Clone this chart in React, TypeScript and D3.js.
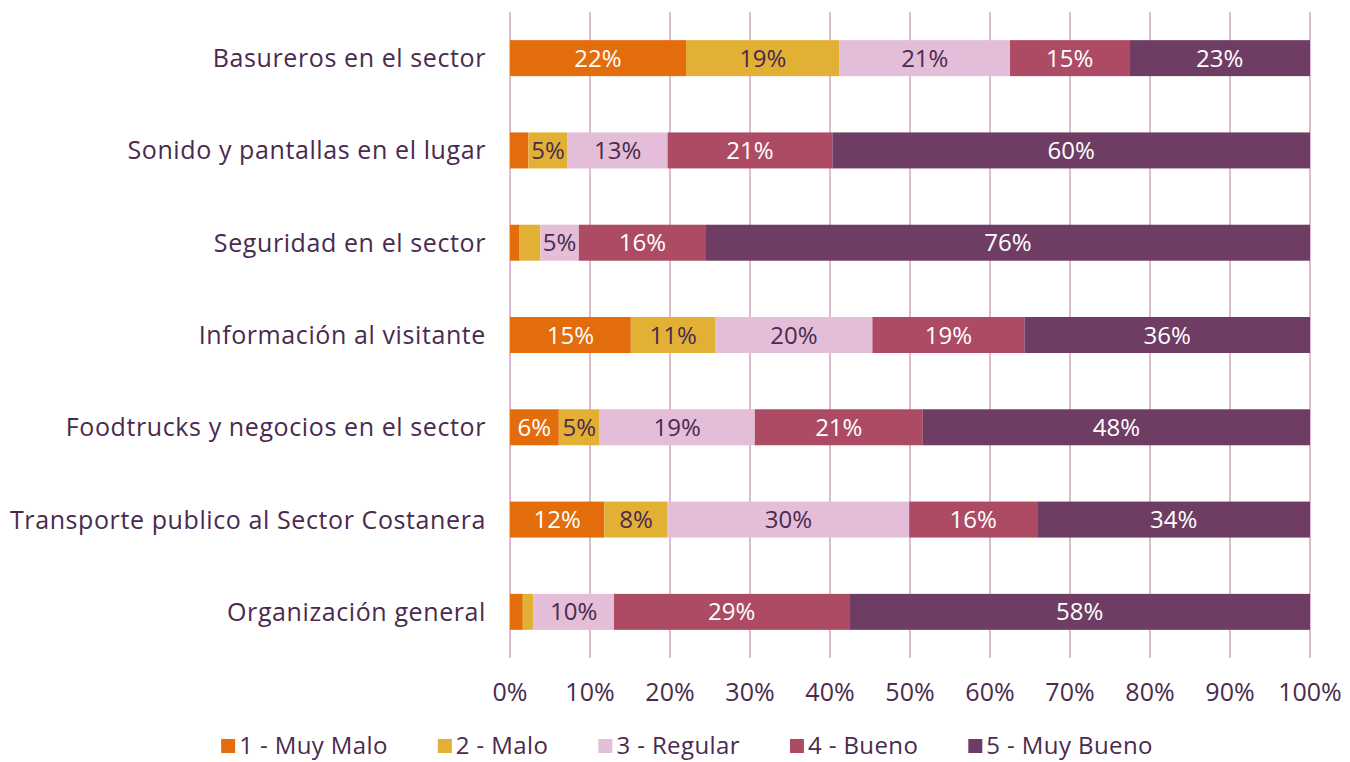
import React, { useEffect, useRef } from "react";
import * as d3 from "d3";

const categories = [
  "Basureros en el sector",
  "Sonido y pantallas en el lugar",
  "Seguridad en el sector",
  "Información al visitante",
  "Foodtrucks y negocios en el sector",
  "Transporte publico al Sector Costanera",
  "Organización general",
];

const seriesNames = ["1 - Muy Malo", "2 - Malo", "3 - Regular", "4 - Bueno", "5 - Muy Bueno"];

// one array per series, same order as categories
const muyMalo = [22.0, 2.3, 1.2, 15.1, 6.1, 11.8, 1.6];
const malo = [19.2, 4.9, 2.6, 10.6, 5.1, 7.9, 1.3];
const regular = [21.3, 12.5, 4.8, 19.6, 19.4, 30.2, 10.1];
const bueno = [14.9, 20.6, 15.9, 19.0, 21.0, 16.0, 29.4];
const muyBueno = [22.6, 59.7, 75.5, 35.7, 48.4, 34.1, 57.6];

const xTicks = [0, 10, 20, 30, 40, 50, 60, 70, 80, 90, 100];

const colors = ["#E36C0C", "#E3B036", "#E4BDD8", "#AD4B65", "#6F3D63"];
const labelColors = ["#ffffff", "#4A2A4E", "#4A2A4E", "#ffffff", "#ffffff"];
const textColor = "#4A2A4E";
const gridColor = "#DDBCD3";

const App = () => {
  const svgRef = useRef<SVGSVGElement>(null);

  useEffect(() => {
    const width = 1350;
    const height = 762;
    const svg = d3.select(svgRef.current);
    svg.selectAll("*").remove();
    svg
      .attr("width", width)
      .attr("height", height)
      .style("font-family", "'Open Sans', sans-serif")
      .style("background", "#fff");

    const series = [muyMalo, malo, regular, bueno, muyBueno];
    const rows = categories.map((c, i) => {
      const r: any = { cat: c };
      series.forEach((s, k) => (r[seriesNames[k]] = s[i]));
      return r;
    });
    const stacked = d3.stack().keys(seriesNames)(rows);

    const x = d3.scaleLinear().domain([0, 100]).range([510, 1310]);
    const y = d3
      .scaleBand()
      .domain(categories)
      .range([12, 658])
      .paddingInner(0.61)
      .paddingOuter(0.305);

    // grid
    svg
      .append("g")
      .selectAll("line")
      .data(xTicks)
      .join("line")
      .attr("x1", (d) => x(d))
      .attr("x2", (d) => x(d))
      .attr("y1", 12)
      .attr("y2", 658)
      .attr("stroke", gridColor)
      .attr("stroke-width", 2);

    // bars
    const layers = svg
      .append("g")
      .selectAll("g")
      .data(stacked)
      .join("g")
      .attr("fill", (d, i) => colors[i]);

    layers
      .selectAll("rect")
      .data((d) => d)
      .join("rect")
      .attr("x", (d) => x(d[0]))
      .attr("y", (d: any) => y(d.data.cat)!)
      .attr("width", (d) => x(d[1]) - x(d[0]))
      .attr("height", y.bandwidth());

    // value labels
    stacked.forEach((layer, k) => {
      svg
        .append("g")
        .selectAll("text")
        .data(layer.filter((d) => d[1] - d[0] >= 4))
        .join("text")
        .attr("x", (d) => (x(d[0]) + x(d[1])) / 2)
        .attr("y", (d: any) => y(d.data.cat)! + y.bandwidth() / 2)
        .attr("dy", "0.36em")
        .attr("text-anchor", "middle")
        .attr("fill", labelColors[k])
        .style("font-size", "24px")
        .text((d) => `${Math.round(d[1] - d[0])}%`);
    });

    // category labels
    svg
      .append("g")
      .selectAll("text")
      .data(categories)
      .join("text")
      .attr("x", 486)
      .attr("y", (d) => y(d)! + y.bandwidth() / 2)
      .attr("dy", "0.36em")
      .attr("text-anchor", "end")
      .attr("fill", textColor)
      .style("font-size", "25px")
      .style("letter-spacing", "0.6px")
      .text((d) => d);

    // x tick labels
    svg
      .append("g")
      .selectAll("text")
      .data(xTicks)
      .join("text")
      .attr("x", (d) => x(d))
      .attr("y", 692)
      .attr("dy", "0.36em")
      .attr("text-anchor", "middle")
      .attr("fill", textColor)
      .style("font-size", "25px")
      .text((d) => `${d}%`);

    // legend
    const legend = svg.append("g");
    const items = legend
      .selectAll("g")
      .data(seriesNames)
      .join("g");
    items
      .append("rect")
      .attr("width", 14)
      .attr("height", 14)
      .attr("y", -7)
      .attr("fill", (d, i) => colors[i]);
    items
      .append("text")
      .attr("x", 18)
      .attr("dy", "0.34em")
      .attr("fill", textColor)
      .style("font-size", "24px")
      .style("letter-spacing", "0.4px")
      .text((d) => d);

    const gap = 50;
    const widths: number[] = [];
    items.each(function () {
      widths.push((this as SVGGElement).getBBox().width);
    });
    const total = d3.sum(widths) + gap * (widths.length - 1);
    let cx = 687 - total / 2;
    items.attr("transform", (d, i) => {
      const t = `translate(${cx}, 746)`;
      cx += widths[i] + gap;
      return t;
    });
  }, []);

  return <svg ref={svgRef} style={{ display: "block", position: "absolute", left: 0, top: 0 }}></svg>;
};

export default App;
